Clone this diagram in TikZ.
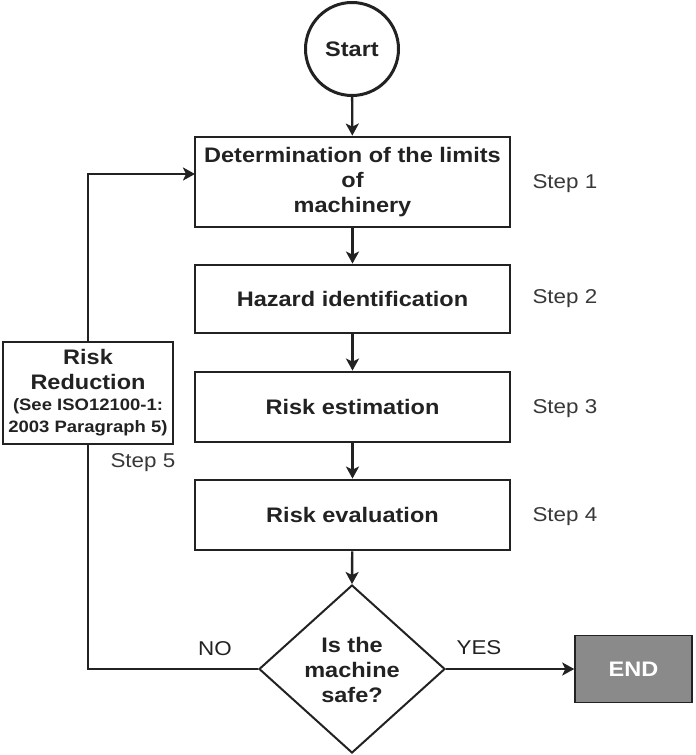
\documentclass[tikz,border=0pt]{standalone}
\usepackage{fontspec}
\setmainfont{Liberation Sans}[FakeStretch=1.12]
\usetikzlibrary{shapes.geometric,arrows.meta,calc}
\definecolor{ink}{HTML}{222222}
\definecolor{endgray}{HTML}{8A8A8A}
\newcommand{\smallrr}{\fontsize{16.5}{19}\selectfont\bfseries}
\begin{document}
\begin{tikzpicture}[x=1pt,y=-1pt,
  every node/.style={text=ink},
  boxstyle/.style={draw=ink,line width=2.8pt,rectangle,minimum width=315pt,align=center,
    font=\fontsize{21}{25}\selectfont\bfseries},
  steplbl/.style={anchor=west,font=\fontsize{20}{24}\selectfont,text=ink!90},
  flow/.style={draw=ink,line width=2.4pt,-{Stealth[length=12pt,width=13pt,inset=3pt]}},
  plain/.style={draw=ink,line width=2.4pt}]
\useasboundingbox (0,0) rectangle (696,755);
\node[circle,draw=ink,line width=3pt,minimum size=93pt,font=\fontsize{21}{25}\selectfont\bfseries] (start) at (352,49) {Start};
\node[boxstyle,minimum height=90pt] (b1) at (352.5,182) {Determination of the limits\\of\\machinery};
\node[boxstyle,minimum height=68pt] (b2) at (352.5,299) {Hazard identification};
\node[boxstyle,minimum height=70pt] (b3) at (352.5,407) {Risk estimation};
\node[boxstyle,minimum height=70pt] (b4) at (352.5,515) {Risk evaluation};
\node[diamond,draw=ink,line width=2pt,minimum width=186pt,minimum height=168pt,inner sep=0pt] (d) at (352,669) {};
\node[align=center,font=\fontsize{21}{25}\selectfont\bfseries] (dtext) at (352,670) {Is the\\machine\\safe?};
\node[rectangle,draw=ink,line width=1.5pt,fill=endgray,minimum width=117pt,minimum height=67pt,
  text=white,font=\fontsize{21}{25}\selectfont\bfseries] (end) at (633.5,669) {END};
\node[rectangle,draw=ink,line width=2.8pt,minimum width=170pt,minimum height=102pt,align=center,inner sep=2pt,
  font=\fontsize{21}{25}\selectfont\bfseries] (rr) at (88,393)
  {Risk\\Reduction\\[-4pt]{\smallrr (See ISO12100-1:}\\[-3pt]{\smallrr 2003 Paragraph 5)}};
\node[steplbl] (s1) at (529,184) {Step 1};
\node[steplbl] (s2) at (529,299) {Step 2};
\node[steplbl] (s3) at (529,409) {Step 3};
\node[steplbl] (s4) at (529,517) {Step 4};
\node[steplbl] (s5) at (107,463) {Step 5};
\node[font=\fontsize{20}{24}\selectfont] (no) at (215,649) {NO};
\node[font=\fontsize{20}{24}\selectfont] (yes) at (479,648) {YES};
\coordinate (inpt) at (195,174);
\coordinate (top) at (rr.north |- inpt);
\coordinate (bot) at (rr.south |- d.west);
\draw[flow] (start) -- (b1);
\draw[flow] (b1) -- (b2);
\draw[flow] (b2) -- (b3);
\draw[flow] (b3) -- (b4);
\draw[flow] (b4) -- (d.north);
\draw[flow] (d.east) -- (end.west);
\draw[plain] (d.west) -- (bot) -- (rr.south);
\draw[flow] (rr.north) -- (top) -- (inpt);
\end{tikzpicture}
\end{document}
